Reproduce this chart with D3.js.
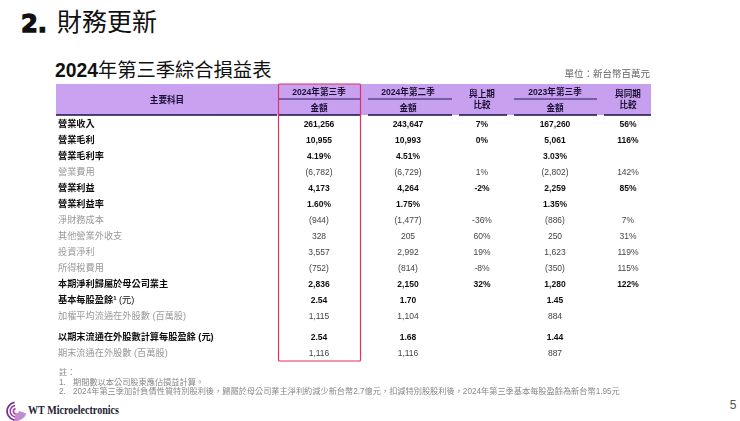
<!DOCTYPE html>
<html>
<head>
<meta charset="utf-8">
<script src="https://cdn.jsdelivr.net/npm/d3@7"></script>
<style>
  html, body { margin: 0; padding: 0; background: #fff; overflow: hidden; }
  text { font-family: "Liberation Sans", "Noto Sans CJK TC", sans-serif; }
</style>
</head>
<body>
<div id="slide"></div>
<script>
// Data
var rowLabels = ["營業收入", "營業毛利", "營業毛利率", "營業費用", "營業利益", "營業利益率", "淨財務成本",
  "其他營業外收支", "投資淨利", "所得稅費用", "本期淨利歸屬於母公司業主", "基本每股盈餘", "加權平均流通在外股數 (百萬股)",
  "以期末流通在外股數計算每股盈餘 (元)", "期末流通在外股數 (百萬股)"];
var boldRows = [1, 1, 1, 0, 1, 1, 0, 0, 0, 0, 1, 1, 0, 1, 0];
var q3Values = ["261,256", "10,955", "4.19%", "(6,782)", "4,173", "1.60%", "(944)", "328", "3,557", "(752)", "2,836", "2.54", "1,115", "2.54", "1,116"];
var q2Values = ["243,647", "10,993", "4.51%", "(6,729)", "4,264", "1.75%", "(1,477)", "205", "2,992", "(814)", "2,150", "1.70", "1,104", "1.68", "1,116"];
var qoqValues = ["7%", "0%", "", "1%", "-2%", "", "-36%", "60%", "19%", "-8%", "32%", "", "", "", ""];
var lastYearValues = ["167,260", "5,061", "3.03%", "(2,802)", "2,259", "1.35%", "(886)", "250", "1,623", "(350)", "1,280", "1.45", "884", "1.44", "887"];
var yoyValues = ["56%", "116%", "", "142%", "85%", "", "7%", "31%", "119%", "115%", "122%", "", "", "", ""];
var columnKeys = ["q3", "q2", "qoq", "lastYear", "yoy"];
var columnValues = [q3Values, q2Values, qoqValues, lastYearValues, yoyValues];
var footnotes = ["註：", "1.", "2."];
var footnoteText = ["", "期間數以本公司股東應佔損益計算。",
  "2024年第三季加計負債性質特別股利後，歸屬於母公司業主淨利約減少新台幣2.7億元，扣減特別股股利後，2024年第三季基本每股盈餘為新台幣1.95元"];

// svg container
var svgWidth = 740;
var svgHeight = 421;

var svg = d3.select("#slide").append("svg")
  .attr("width", svgWidth)
  .attr("height", svgHeight);

var defs = svg.append("defs");

var headerFill = defs.append("linearGradient").attr("id", "headerFill");
headerFill.append("stop").attr("offset", "0%").attr("stop-color", "#c9a2f2");
headerFill.append("stop").attr("offset", "100%").attr("stop-color", "#c6a0ee");

defs.append("filter").attr("id", "soft")
  .append("feGaussianBlur").attr("stdDeviation", 0.35);
defs.append("filter").attr("id", "softer")
  .append("feGaussianBlur").attr("stdDeviation", 0.6);

// Scales
var xColumn = d3.scaleOrdinal()
  .domain(columnKeys)
  .range([319, 408, 482, 555, 628]);

var yRow = d3.scalePoint()
  .domain(d3.range(rowLabels.length))
  .range([123.5, 348]);

// The last two rows sit a little lower than the regular rhythm
function rowY(i) {
  return yRow(i) + (i >= 13 ? 5 : 0);
}

// Slide titles
svg.append("text")
  .attr("x", 21).attr("y", 32)
  .style("font-family", "'DejaVu Sans'")
  .style("font-weight", 700)
  .style("font-size", "25px")
  .attr("stroke", "#111").attr("stroke-width", 1.3)
  .attr("fill", "#111")
  .attr("textLength", 26).attr("lengthAdjust", "spacingAndGlyphs")
  .text("2.");

svg.append("text")
  .attr("x", 57).attr("y", 31)
  .style("font-size", "25px")
  .style("font-family", "'Noto Sans CJK TC'")
  .attr("fill", "#111")
  .text("財務更新");

var subtitle = svg.append("text")
  .attr("x", 55).attr("y", 77)
  .style("font-size", "19.3px")
  .attr("fill", "#111");
subtitle.append("tspan").style("font-weight", 700).text("2024");
subtitle.append("tspan").style("font-family", "'Noto Sans CJK TC'").text("年第三季綜合損益表");

svg.append("text")
  .attr("x", 650).attr("y", 77)
  .attr("text-anchor", "end")
  .style("font-size", "9.5px")
  .style("font-family", "'Noto Sans CJK TC'")
  .attr("fill", "#666")
  .attr("filter", "url(#soft)")
  .text("單位：新台幣百萬元");

// Header band
var tableGroup = svg.append("g").attr("filter", "url(#soft)");

tableGroup.append("rect")
  .attr("x", 56).attr("y", 84)
  .attr("width", 595).attr("height", 31)
  .attr("fill", "url(#headerFill)");

var headerRules = [[279, 360, 99], [368, 452, 99], [514, 597, 99],
  [56, 277, 115], [279, 360, 115], [368, 452, 115], [459, 507, 115], [514, 597, 115], [604, 651, 115]];

tableGroup.selectAll(".headerRule")
  .data(headerRules)
  .enter()
  .append("line")
  .attr("class", "headerRule")
  .attr("x1", function(d) { return d[0]; })
  .attr("x2", function(d) { return d[1]; })
  .attr("y1", function(d) { return d[2]; })
  .attr("y2", function(d) { return d[2]; })
  .attr("stroke", "#1c0a4a")
  .attr("stroke-width", function(d) { return d[2] == 115 ? 1.3 : 0.9; });

var headerLabels = [
  ["主要科目", 167, 103], ["2024年第三季", 319, 95], ["金額", 319, 111],
  ["2024年第二季", 408, 95], ["金額", 408, 111],
  ["與上期", 482, 97], ["比較", 482, 108],
  ["2023年第三季", 555, 95], ["金額", 555, 111],
  ["與同期", 628, 97], ["比較", 628, 108]
];

tableGroup.selectAll(".headerLabel")
  .data(headerLabels)
  .enter()
  .append("text")
  .attr("class", "headerLabel")
  .attr("x", function(d) { return d[1]; })
  .attr("y", function(d) { return d[2]; })
  .attr("text-anchor", "middle")
  .style("font-size", "8.6px")
  .style("font-weight", 700)
  .attr("fill", "#1d1033")
  .text(function(d) { return d[0]; });

// Rows
var rows = tableGroup.selectAll(".row")
  .data(rowLabels)
  .enter()
  .append("g")
  .attr("class", "row")
  .attr("transform", function(d, i) { return "translate(0," + rowY(i) + ")"; })
  .style("font-size", "8.5px")
  .style("font-weight", function(d, i) { return boldRows[i] ? 700 : 400; })
  .attr("fill", function(d, i) { return boldRows[i] ? "#111" : "#444"; });

rows.append("text")
  .attr("x", 58)
  .attr("y", 3)
  .style("font-size", "9.2px")
  .attr("fill", function(d, i) { return boldRows[i] ? "#111" : "#999"; })
  .attr("filter", function(d, i) { return boldRows[i] ? null : "url(#softer)"; })
  .text(function(d) { return d; });

columnKeys.forEach(function(key, c) {
  rows.append("text")
    .attr("x", xColumn(key))
    .attr("y", 3)
    .attr("text-anchor", "middle")
    .text(function(d, i) { return columnValues[c][i]; });
});

// Suffix on the basic EPS row label
rows.filter(function(d, i) { return i == 11; })
  .select("text")
  .call(function(label) {
    label.append("tspan")
      .attr("dy", -3).style("font-size", "6px")
      .text("1");
    label.append("tspan")
      .attr("dy", 3).style("font-weight", 400)
      .text(" (元)");
  });

// Highlight around the current quarter
svg.append("rect")
  .attr("x", 278.5).attr("y", 84)
  .attr("width", 82).attr("height", 277)
  .attr("rx", 1)
  .attr("fill", "none")
  .attr("stroke", "#e2305f")
  .attr("stroke-width", 1.2);

// Footnotes
var notes = svg.append("g")
  .attr("filter", "url(#softer)")
  .style("font-size", "8.2px");

notes.selectAll(".noteMark")
  .data(footnotes)
  .enter()
  .append("text")
  .attr("class", "noteMark")
  .attr("x", 59)
  .attr("y", function(d, i) { return 375 + i * 9.5; })
  .attr("fill", "#888")
  .text(function(d) { return d; });

notes.selectAll(".noteText")
  .data(footnoteText)
  .enter()
  .append("text")
  .attr("class", "noteText")
  .attr("x", 73)
  .attr("y", function(d, i) { return 375 + i * 9.5; })
  .attr("fill", "#888")
  .text(function(d) { return d; });

// Logo
var logo = svg.append("g").attr("transform", "translate(16,410) scale(1.15)");
var swoosh = d3.arc();
[[7, 8.5, "#7b2d9b"], [4.4, 5.6, "#8e3fa8"], [1.5, 3, "#b14fa6"]].forEach(function(a) {
  logo.append("path")
    .attr("d", swoosh({innerRadius: a[0], outerRadius: a[1], startAngle: Math.PI * 0.95, endAngle: Math.PI * 1.95}))
    .attr("fill", a[2])
    .attr("transform", "translate(0,1)");
});
logo.append("path")
  .attr("d", swoosh({innerRadius: 3, outerRadius: 9.5, startAngle: Math.PI * 0.6, endAngle: Math.PI * 1.05}))
  .attr("fill", "#c48ccf");

svg.append("text")
  .attr("x", 28).attr("y", 414)
  .style("font-family", "'Liberation Serif'")
  .style("font-size", "12px")
  .style("font-weight", 700)
  .attr("fill", "#223")
  .attr("textLength", 91).attr("lengthAdjust", "spacingAndGlyphs")
  .text("WT Microelectronics");

svg.append("text")
  .attr("x", 733).attr("y", 409)
  .attr("text-anchor", "middle")
  .style("font-size", "12px")
  .attr("fill", "#555")
  .text("5");
</script>
</body>
</html>
